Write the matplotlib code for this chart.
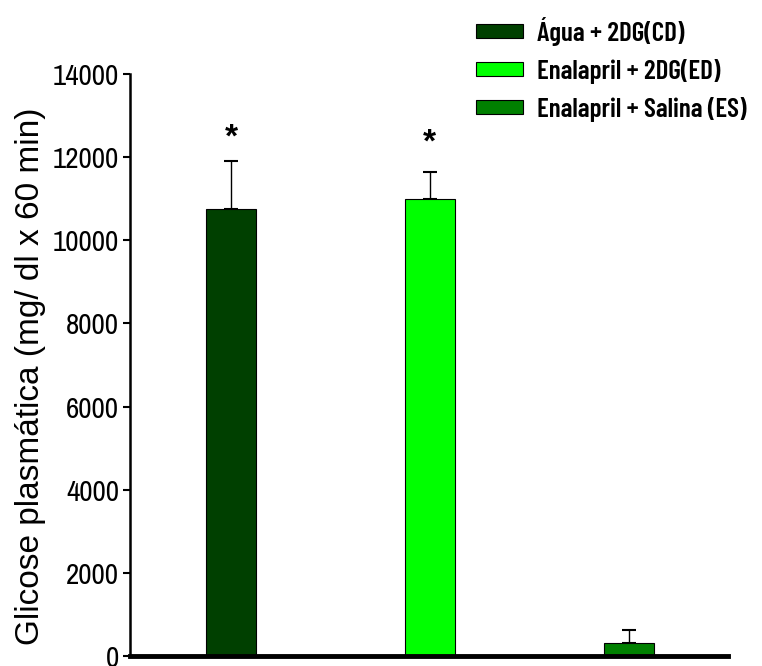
import matplotlib.pyplot as plt
from matplotlib import font_manager
from matplotlib.patches import Patch

# data
groups = ["Água + 2DG(CD)", "Enalapril + 2DG(ED)", "Enalapril + Salina (ES)"]
means = [10750, 11000, 310]
errors = [1150, 630, 320]
stars = ["*", "*", ""]
star_y = [12450, 12330, 0]
colors = ["#004000", "#00ff00", "#008000"]
yticks = [0, 2000, 4000, 6000, 8000, 10000, 12000, 14000]

names = {f.name for f in font_manager.fontManager.ttflist}
narrow = "Archivo Narrow" if "Archivo Narrow" in names else "Liberation Sans"
legend_font = "Barlow Condensed" if "Barlow Condensed" in names else narrow

fig = plt.figure(figsize=(7.62, 6.66), dpi=100)
ax = fig.add_axes([0.1706, 0.015, 0.785, 0.874])

x = list(range(len(means)))
ax.bar(x, means, width=0.25, color=colors, edgecolor="black", linewidth=0.8, zorder=2)
ax.errorbar(x, means, yerr=[[0] * len(errors), errors], fmt="none",
            ecolor="black", elinewidth=1, capsize=4.7, capthick=1.5, zorder=1)

for xi, sy, s in zip(x, star_y, stars):
    if s:
        ax.text(xi, sy, s, ha="center", va="center", fontsize=24,
                fontweight="bold", family="Liberation Sans")

ax.set_xlim(-0.508, 2.50)
ax.set_ylim(0, 14000)
ax.set_xticks([])
ax.set_yticks(yticks)
ax.set_yticklabels([str(t) for t in yticks], family=narrow, fontsize=21)
ax.tick_params(axis="y", length=5, width=1.5, pad=3)
ax.set_ylabel("Glicose plasmática (mg/ dl x 60 min)", family="Liberation Sans",
              fontsize=24)
ax.yaxis.set_label_coords(-0.141, 0.48)

for side in ("top", "right"):
    ax.spines[side].set_visible(False)
ax.spines["left"].set_linewidth(1.8)
ax.spines["bottom"].set_linewidth(3.5)

handles = [Patch(facecolor=c, edgecolor="black", linewidth=0.8) for c in colors]
fig.legend(handles, groups, loc="upper left", bbox_to_anchor=(0.625, 0.975),
           frameon=False, prop={"family": legend_font, "weight": 600, "size": 19.5},
           borderpad=0, borderaxespad=0, handlelength=1.74, handleheight=0.37,
           handletextpad=0.52, labelspacing=0.48)

fig.savefig("out.png", dpi=100)
